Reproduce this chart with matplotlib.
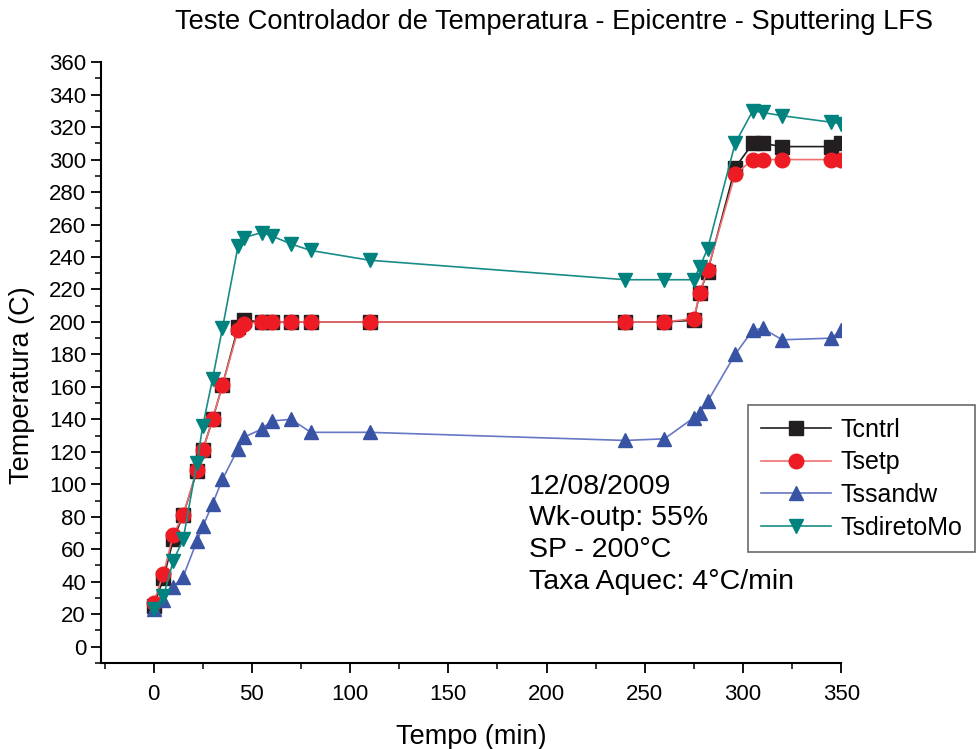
import numpy as np
import matplotlib
matplotlib.use('Agg')
import matplotlib.pyplot as plt
from matplotlib.ticker import MultipleLocator

plt.rcParams['font.family'] = ['Liberation Sans', 'DejaVu Sans']

# data (time in min, temperature in C)
tempo = [0, 5, 10, 15, 22, 25, 30, 35, 43, 46, 55, 60, 70, 80, 110,
         240, 260, 275, 278, 282, 296, 305, 310, 320, 345, 350]
tcntrl = [25, 42, 66, 81, 108, 121, 140, 161, 197, 201, 200, 200, 200, 200, 200,
          200, 200, 201, 218, 231, 295, 310, 310, 308, 308, 310]
tsetp = [27, 45, 69, 81, 109, 121, 140, 161, 195, 199, 200, 200, 200, 200, 200,
         200, 200, 202, 218, 232, 291, 300, 300, 300, 300, 300]
tssandw = [23, 29, 37, 43, 65, 74, 88, 103, 122, 129, 134, 139, 140, 132, 132,
           127, 128, 141, 144, 151, 180, 195, 196, 189, 190, 195]
tsdireto = [23, 31, 53, 66, 113, 136, 165, 196, 247, 252, 255, 253, 248, 244, 238,
            226, 226, 226, 234, 245, 310, 330, 329, 327, 323, 322]

series = [
    ('Tcntrl', tcntrl, 's', '#231f20', '#231f20'),
    ('Tsetp', tsetp, 'o', '#ed1c24', '#f07070'),
    ('Tssandw', tssandw, '^', '#3953a4', '#6677c4'),
    ('TsdiretoMo', tsdireto, 'v', '#00827f', '#1a8c88'),
]

fig = plt.figure(figsize=(9.77, 7.49), dpi=100)
ax = fig.add_axes([0.103, 0.115, 0.758, 0.802])

for name, vals, mk, mcol, lcol in series:
    ax.plot(tempo, vals, color=lcol, linewidth=1.2, marker=mk, markersize=10.5,
            markerfacecolor=mcol, markeredgecolor=mcol, label=name)

ax.set_xlim(-27, 350)
ax.set_ylim(-10, 360)
ax.xaxis.set_major_locator(MultipleLocator(50))
ax.xaxis.set_minor_locator(MultipleLocator(25))
ax.yaxis.set_major_locator(MultipleLocator(20))
ax.yaxis.set_minor_locator(MultipleLocator(10))
ax.tick_params(which='major', direction='out', length=7, width=1.3)
ax.tick_params(which='minor', direction='out', length=4, width=1.1)
ax.tick_params(axis='y', labelsize=16)
ax.tick_params(axis='x', labelsize=16, pad=8)
for s in ['top', 'right']:
    ax.spines[s].set_visible(False)
for s in ['left', 'bottom']:
    ax.spines[s].set_linewidth(1.5)

ax.set_xlabel('Tempo (min)', fontsize=19.5, labelpad=14)
ax.set_ylabel('Temperatura (C)', fontsize=19.5)
ax.yaxis.set_label_coords(-0.088, 0.463)
fig.text(0.567, 0.970, 'Teste Controlador de Temperatura - Epicentre - Sputtering LFS',
         fontsize=19.6, ha='center', va='center')

ax.text(191, 106.5, '12/08/2009\nWk-outp: 55%\nSP - 200\u00b0C\nTaxa Aquec: 4\u00b0C/min',
        fontsize=20.5, ha='left', va='top', linespacing=1.28)

leg = ax.legend(loc='upper left', bbox_to_anchor=(748 / 977, 1 - 405 / 749),
                bbox_transform=fig.transFigure, fontsize=18, frameon=True,
                fancybox=False, edgecolor='#444444', handlelength=2.8,
                borderpad=0.5, labelspacing=0.35, handletextpad=0.4,
                borderaxespad=0)
leg.get_frame().set_linewidth(1.2)

fig.savefig('out.png', dpi=100)
